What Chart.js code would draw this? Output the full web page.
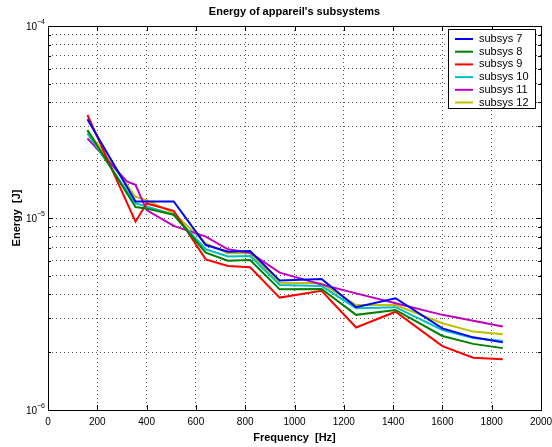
<!DOCTYPE html>
<html>
<head>
<meta charset="utf-8">
<script src="https://cdn.jsdelivr.net/npm/chart.js@4.4.0/dist/chart.umd.min.js"></script>
<style>
  html, body { margin: 0; padding: 0; background: #fff; }
  #c { display: block; }
</style>
</head>
<body>
<canvas id="c" width="552" height="447"></canvas>
<script>
// Frequencies [Hz] of the band points
const freq = [160, 320, 355, 400, 510, 640, 730, 820, 940, 1110, 1250, 1410, 1600, 1725, 1845];

// Energy [J] per subsystem (null = no point at that band)
const subsys7  = [3.27e-5, null, 1.22e-5, 1.22e-5, 1.22e-5, 7.23e-6, 6.68e-6, 6.73e-6, 4.72e-6, 4.81e-6, 3.43e-6, 3.82e-6, 2.66e-6, 2.39e-6, 2.25e-6];
const subsys8  = [2.87e-5, null, 1.14e-5, 1.12e-5, 1.04e-5, 6.60e-6, 5.99e-6, 6.04e-6, 4.25e-6, 4.27e-6, 3.13e-6, 3.32e-6, 2.43e-6, 2.21e-6, 2.10e-6];
const subsys9  = [3.44e-5, null, 9.57e-6, 1.19e-5, 1.09e-5, 6.09e-6, 5.62e-6, 5.54e-6, 3.85e-6, 4.18e-6, 2.69e-6, 3.25e-6, 2.15e-6, 1.87e-6, 1.84e-6];
const subsys10 = [2.76e-5, null, 1.19e-5, 1.15e-5, 1.04e-5, 6.87e-6, 6.30e-6, 6.34e-6, 4.48e-6, 4.42e-6, 3.39e-6, 3.43e-6, 2.61e-6, 2.37e-6, 2.29e-6];
const subsys11 = [2.60e-5, 1.55e-5, 1.49e-5, 1.10e-5, 9.10e-6, 8.00e-6, 6.87e-6, 6.60e-6, 5.19e-6, 4.50e-6, 4.05e-6, 3.60e-6, 3.13e-6, 2.92e-6, 2.72e-6];
const subsys12 = [2.85e-5, null, 1.29e-5, 1.24e-5, 1.06e-5, 7.38e-6, 6.55e-6, 6.55e-6, 4.60e-6, 4.57e-6, 3.52e-6, 3.52e-6, 2.83e-6, 2.56e-6, 2.48e-6];

const seriesNames = ['subsys 7', 'subsys 8', 'subsys 9', 'subsys 10', 'subsys 11', 'subsys 12'];
const seriesData = [subsys7, subsys8, subsys9, subsys10, subsys11, subsys12];
const seriesColors = ['#0000ff', '#008000', '#ff0000', '#00bfbf', '#bf00bf', '#bfbf00'];

const xTicks = [0, 200, 400, 600, 800, 1000, 1200, 1400, 1600, 1800, 2000];
const yDecades = [1e-6, 1e-5, 1e-4];

const FONT = '"Liberation Sans", Arial, sans-serif';

// MATLAB-like frame: box, inward ticks, tick labels, titles and legend
const matlabFrame = {
  id: 'matlabFrame',
  afterDraw(chart) {
    const { ctx, chartArea: a, scales: { x, y } } = chart;
    ctx.save();
    ctx.strokeStyle = '#000';
    ctx.lineWidth = 1;

    // axes box
    ctx.strokeRect(Math.round(a.left) + 0.5, Math.round(a.top) + 0.5,
      Math.round(a.right - a.left), Math.round(a.bottom - a.top));

    // x ticks (inward, bottom and top)
    ctx.beginPath();
    xTicks.forEach((v) => {
      const px = Math.round(x.getPixelForValue(v)) + 0.5;
      ctx.moveTo(px, a.bottom); ctx.lineTo(px, a.bottom - 5);
      ctx.moveTo(px, a.top); ctx.lineTo(px, a.top + 5);
    });
    // y ticks (major + minor, left and right)
    y.ticks.forEach((t) => {
      const v = t.value;
      const major = Math.abs(Math.log10(v) - Math.round(Math.log10(v))) < 1e-9;
      const len = major ? 5 : 3;
      const py = Math.round(y.getPixelForValue(v)) + 0.5;
      ctx.moveTo(a.left, py); ctx.lineTo(a.left + len, py);
      ctx.moveTo(a.right, py); ctx.lineTo(a.right - len, py);
    });
    ctx.stroke();

    ctx.fillStyle = '#000';

    // x tick labels
    ctx.font = '10px ' + FONT;
    ctx.textAlign = 'center';
    ctx.textBaseline = 'middle';
    xTicks.forEach((v) => {
      ctx.fillText(String(v), x.getPixelForValue(v), a.bottom + 12);
    });

    // y tick labels 10^n
    yDecades.forEach((v) => {
      const py = y.getPixelForValue(v);
      const exp = String(Math.round(Math.log10(v))).replace('-', '\u2212');
      ctx.font = '10px ' + FONT;
      ctx.textAlign = 'right';
      ctx.textBaseline = 'middle';
      ctx.fillText('10', a.left - 11, py + 1);
      ctx.font = '7px ' + FONT;
      ctx.textAlign = 'left';
      ctx.fillText(exp, a.left - 11, py - 4);
    });

    // title and axis titles
    ctx.font = 'bold 11px ' + FONT;
    ctx.textAlign = 'center';
    ctx.textBaseline = 'middle';
    ctx.fillText("Energy of appareil's subsystems", (a.left + a.right) / 2, 12);
    ctx.fillText('Frequency  [Hz]', (a.left + a.right) / 2, a.bottom + 28);
    ctx.save();
    ctx.translate(17, (a.top + a.bottom) / 2);
    ctx.rotate(-Math.PI / 2);
    ctx.fillText('Energy  [J]', 0, 0);
    ctx.restore();

    // legend box, top right
    const lx = 448, ly = 29, lw = 87, lh = 79;
    ctx.fillStyle = '#fff';
    ctx.fillRect(lx, ly, lw, lh);
    ctx.strokeRect(lx + 0.5, ly + 0.5, lw, lh);
    ctx.font = '11px ' + FONT;
    ctx.textAlign = 'left';
    ctx.textBaseline = 'middle';
    seriesNames.forEach((name, i) => {
      const ry = ly + 10 + i * 12.7;
      ctx.strokeStyle = seriesColors[i];
      ctx.lineWidth = 2;
      ctx.beginPath();
      ctx.moveTo(455, ry); ctx.lineTo(473, ry);
      ctx.stroke();
      ctx.fillStyle = '#000';
      ctx.fillText(name, 479, ry);
    });
    ctx.restore();
  }
};

new Chart(document.getElementById('c'), {
  type: 'line',
  data: {
    datasets: seriesNames.map((name, i) => ({
      label: name,
      data: freq.map((f, k) => ({ x: f, y: seriesData[i][k] })),
      borderColor: seriesColors[i],
      backgroundColor: seriesColors[i],
      borderWidth: 2,
      pointRadius: 0,
      tension: 0,
      spanGaps: true,
    })),
  },
  options: {
    responsive: false,
    animation: false,
    devicePixelRatio: 1,
    layout: { padding: { left: 48, right: 11, top: 26, bottom: 37 } },
    plugins: {
      legend: { display: false },
      title: { display: false },
      tooltip: { enabled: false },
    },
    scales: {
      x: {
        type: 'linear',
        min: 0,
        max: 2000,
        ticks: { display: false, stepSize: 200 },
        border: { display: false, dash: [1, 3] },
        grid: { color: '#555', lineWidth: 1, drawTicks: false },
      },
      y: {
        type: 'logarithmic',
        min: 1e-6,
        max: 1e-4,
        ticks: { display: false },
        border: { display: false, dash: [1, 3] },
        grid: { color: '#555', lineWidth: 1, drawTicks: false },
      },
    },
  },
  plugins: [matlabFrame],
});
</script>
</body>
</html>
